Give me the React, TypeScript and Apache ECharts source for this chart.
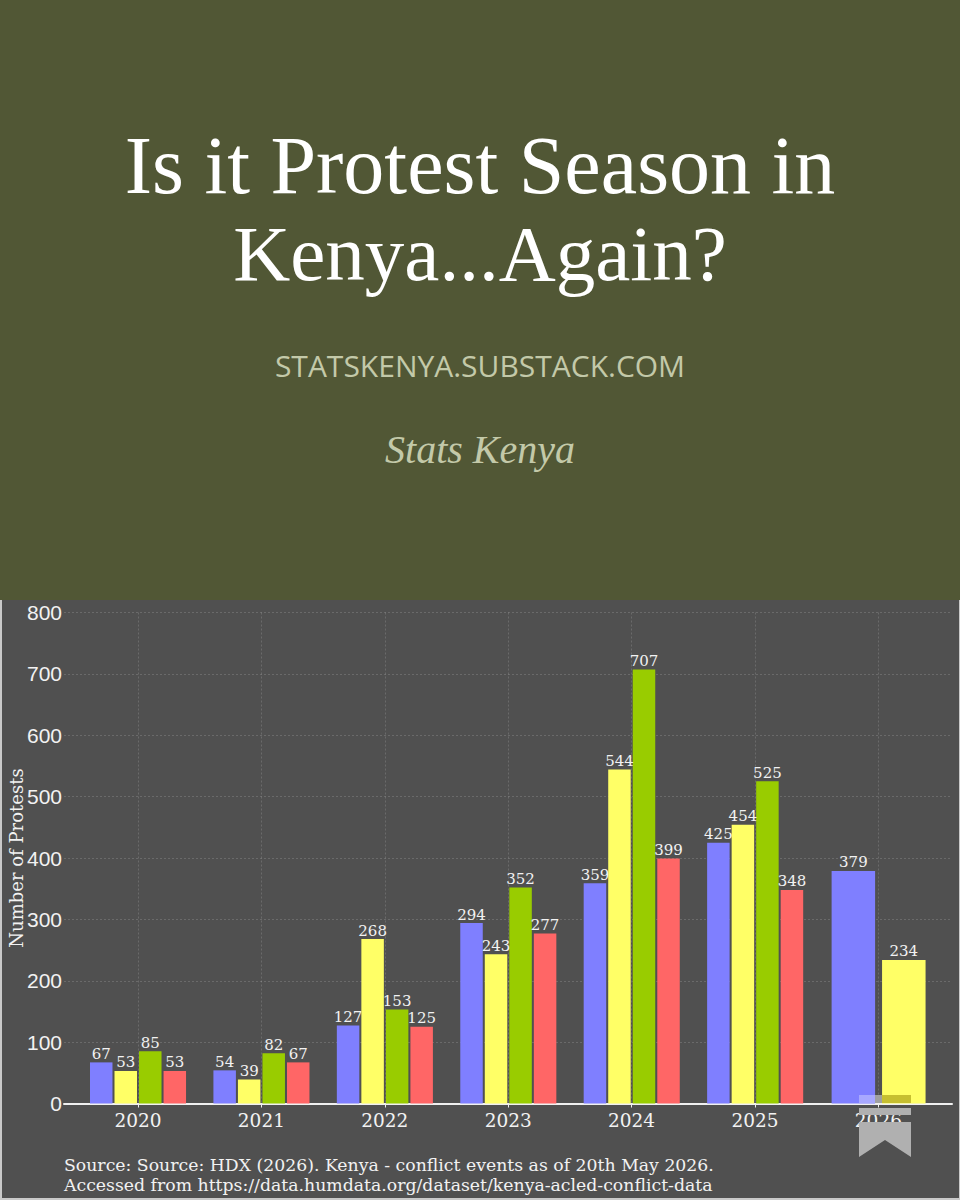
import React, { useEffect, useRef } from "react";
import * as echarts from "echarts";

const years = ["2020", "2021", "2022", "2023", "2024", "2025", "2026"];
const q1 = [67, 54, 127, 294, 359, 425, null];
const q2 = [53, 39, 268, 243, 544, 454, null];
const q3 = [85, 82, 153, 352, 707, 525, null];
const q4 = [53, 67, 125, 277, 399, 348, null];
const q1Wide = [null, null, null, null, null, null, 379];
const q2Wide = [null, null, null, null, null, null, 234];
const yTicks = { min: 0, max: 800, interval: 100 };

const BLUE = "#7f7fff";
const YELLOW = "#ffff66";
const GREEN = "#99cc00";
const RED = "#ff6666";
const SERIF = "'Liberation Serif', serif";
const SLAB = "'DejaVu Serif', serif";
const SANS = "'Liberation Sans', Arial, sans-serif";
const GRIDLINE = { color: "rgba(255,255,255,0.15)", type: [2, 2] as number[], width: 1 };

const labelStyle = {
  show: true,
  position: "top" as const,
  distance: 1,
  color: "#f2f2f2",
  fontFamily: SLAB,
  fontSize: 15,
};

function barSeries(name: string, data: (number | null)[], color: string, axis: number, width: number, gap: string) {
  return {
    name,
    type: "bar" as const,
    xAxisIndex: axis,
    yAxisIndex: 1,
    data,
    barWidth: width,
    barGap: gap,
    itemStyle: { color },
    label: labelStyle,
    z: 3,
  };
}

export default function App() {
  const ref = useRef<HTMLDivElement>(null);
  useEffect(() => {
    document.body.style.margin = "0";
    const chart = echarts.init(ref.current!, undefined, { renderer: "svg" });
    const gridY = { top: 612.5, height: 491, outerBoundsMode: "none" };
    chart.setOption({
      animation: false,
      backgroundColor: "#515735",
      title: [
        { text: "Is it Protest Season in", left: "center", top: 119, textStyle: { color: "#ffffff", fontFamily: SERIF, fontWeight: "normal", fontSize: 82 } },
        { text: "Kenya...Again?", left: "center", top: 209, textStyle: { color: "#ffffff", fontFamily: SERIF, fontWeight: "normal", fontSize: 79 } },
        { text: "STATSKENYA.SUBSTACK.COM", left: "center", top: 345, textStyle: { color: "#c3c9a9", fontFamily: "'Open Sans', sans-serif", fontWeight: "normal", fontSize: 30 } },
        { text: "Stats Kenya", left: "center", top: 424, textStyle: { color: "#c3c9a9", fontFamily: SERIF, fontStyle: "italic", fontWeight: "normal", fontSize: 40 } },
      ],
      grid: [
        { left: 64, width: 888, ...gridY },
        { left: 76.3, width: 864, ...gridY },
        { left: 138, width: 740.4, ...gridY },
      ],
      xAxis: [
        {
          type: "value",
          gridIndex: 0,
          min: 0,
          max: 1,
          axisLine: { show: true, lineStyle: { color: "#f0f0f0", width: 2 } },
          axisTick: { show: false },
          axisLabel: { show: false },
          splitLine: { show: false },
        },
        { type: "category", gridIndex: 1, data: years, show: false },
        { type: "category", gridIndex: 1, data: years, show: false },
        {
          type: "category",
          gridIndex: 2,
          data: years,
          boundaryGap: false,
          axisLine: { show: false },
          axisTick: { show: true, length: 4, interval: 0, lineStyle: { color: "#f0f0f0" } },
          axisLabel: {
            interval: 0,
            color: "#f2f2f2",
            fontFamily: SLAB,
            fontSize: 18.5,
            margin: 7,
          },
          splitLine: { show: true, interval: 0, lineStyle: GRIDLINE },
        },
      ],
      yAxis: [
        {
          type: "value",
          gridIndex: 0,
          ...yTicks,
          axisLine: { show: false },
          axisTick: { show: false },
          axisLabel: { color: "#f2f2f2", fontFamily: SANS, fontSize: 21, margin: 2 },
          splitLine: { show: true, lineStyle: GRIDLINE },
        },
        { type: "value", gridIndex: 1, ...yTicks, show: false },
        { type: "value", gridIndex: 2, ...yTicks, show: false },
      ],
      series: [
        barSeries("Q1", q1, BLUE, 1, 22.5, "9%"),
        barSeries("Q2", q2, YELLOW, 1, 22.5, "9%"),
        barSeries("Q3", q3, GREEN, 1, 22.5, "9%"),
        barSeries("Q4", q4, RED, 1, 22.5, "9%"),
        barSeries("Q1 2026", q1Wide, BLUE, 2, 43.5, "16%"),
        barSeries("Q2 2026", q2Wide, YELLOW, 2, 43.5, "16%"),
      ],
      graphic: [
        { type: "rect", z: -10, silent: true, shape: { x: 0, y: 600, width: 960, height: 600 }, style: { fill: "#c9c9c9" } },
        { type: "rect", z: -9, silent: true, shape: { x: 2, y: 600, width: 957, height: 598 }, style: { fill: "#505050" } },
        {
          type: "text",
          z: 10,
          x: 16,
          y: 858,
          rotation: Math.PI / 2,
          style: {
            text: "Number of Protests",
            fill: "#f2f2f2",
            font: `18px ${SLAB}`,
            textAlign: "center",
            textVerticalAlign: "middle",
            verticalAlign: "middle",
          },
        },
        {
          type: "text",
          z: 10,
          x: 64,
          y: 1155,
          style: {
            text: "Source: Source: HDX (2026). Kenya - conflict events as of 20th May 2026.\nAccessed from https://data.humdata.org/dataset/kenya-acled-conflict-data",
            fill: "#f2f2f2",
            font: `17.3px ${SLAB}`,
            lineHeight: 20,
          },
        },
        { type: "rect", z: 10, shape: { x: 859, y: 1095, width: 16, height: 8 }, style: { fill: "#a8a8ff" } },
        { type: "rect", z: 10, shape: { x: 875, y: 1095, width: 7, height: 8 }, style: { fill: "#a0a0a0" } },
        { type: "rect", z: 10, shape: { x: 882, y: 1095, width: 29, height: 8 }, style: { fill: "#c6bf30" } },
        { type: "rect", z: 10, shape: { x: 859, y: 1108, width: 52, height: 7 }, style: { fill: "#b0b0b0" } },
        {
          type: "polygon",
          z: 10,
          shape: { points: [[859, 1122], [911, 1122], [911, 1157], [885, 1140], [859, 1157]] },
          style: { fill: "#b0b0b0" },
        },
      ],
    });
    return () => chart.dispose();
  }, []);
  return <div ref={ref} style={{ width: 960, height: 1200 }} />;
}
